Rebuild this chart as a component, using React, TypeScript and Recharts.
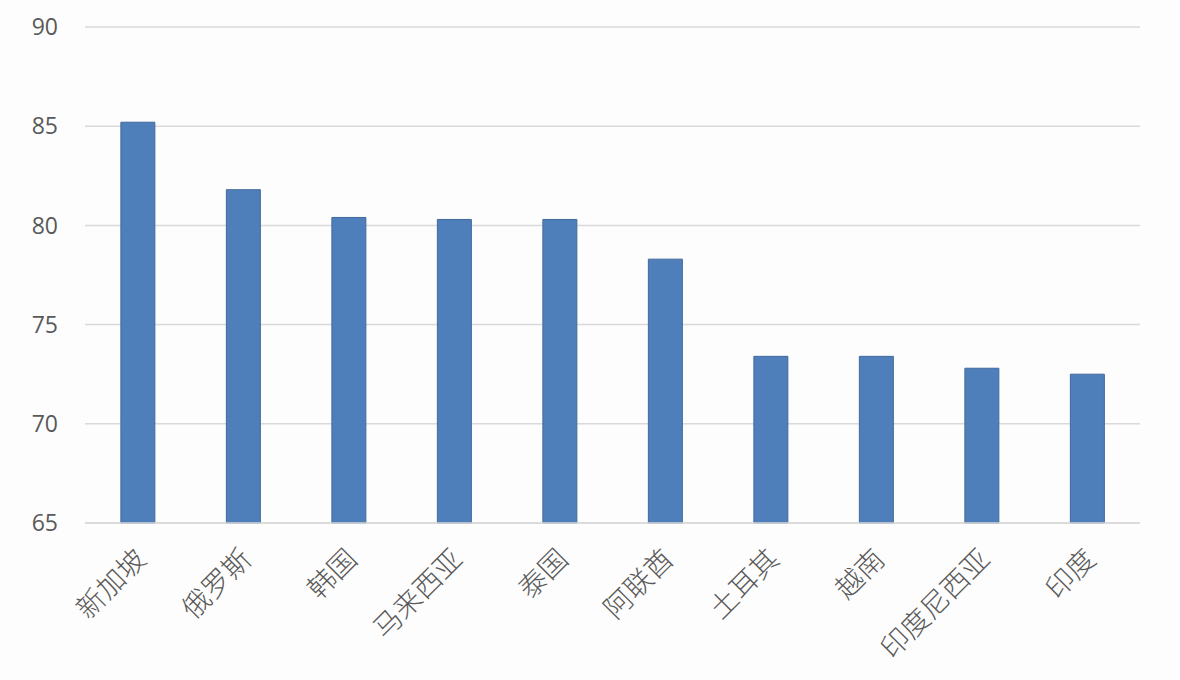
import { BarChart, Bar, XAxis, YAxis, CartesianGrid } from "recharts";

const countries = ["新加坡", "俄罗斯", "韩国", "马来西亚", "泰国", "阿联酋", "土耳其", "越南", "印度尼西亚", "印度"];
const scores = [85.2, 81.8, 80.4, 80.3, 80.3, 78.3, 73.4, 73.4, 72.8, 72.5];
const yTicks = [65, 70, 75, 80, 85, 90];

const data = countries.map((name, i) => ({ name, value: scores[i] }));

const CountryTick = (props: any) => {
  const { x, y, payload } = props;
  return (
    <text
      x={x + 10}
      y={y + 30}
      transform={`rotate(-45, ${x + 10}, ${y + 30})`}
      textAnchor="end"
      fill="#595959"
      fontSize={28}
      fontFamily="'Noto Sans CJK SC', sans-serif"
      fontWeight={300}
    >
      {payload.value}
    </text>
  );
};

export default function App() {
  return (
    <div style={{ position: "absolute", left: 0, top: 0, width: 1180, height: 680, background: "#fdfdfd" }}>
      <BarChart
        width={1180}
        height={680}
        data={data}
        margin={{ top: 27, right: 40, bottom: 0, left: 0 }}
        barCategoryGap="34%"
      >
        <CartesianGrid vertical={false} stroke="#d9d9d9" strokeWidth={1.5} />
        <XAxis
          dataKey="name"
          interval={0}
          axisLine={{ stroke: "#d9d9d9", strokeWidth: 1.5 }}
          tickLine={false}
          tick={<CountryTick />}
          height={157}
        />
        <YAxis
          domain={[65, 90]}
          ticks={yTicks}
          width={85}
          axisLine={false}
          tickLine={false}
          tickSize={0}
          tickMargin={27}
          tick={{ fill: "#595959", fontSize: 23, fontFamily: "'Open Sans', sans-serif" }}
        />
        <Bar dataKey="value" fill="#4f7fbb" stroke="#41699c" strokeWidth={1} isAnimationActive={false} />
      </BarChart>
    </div>
  );
}
